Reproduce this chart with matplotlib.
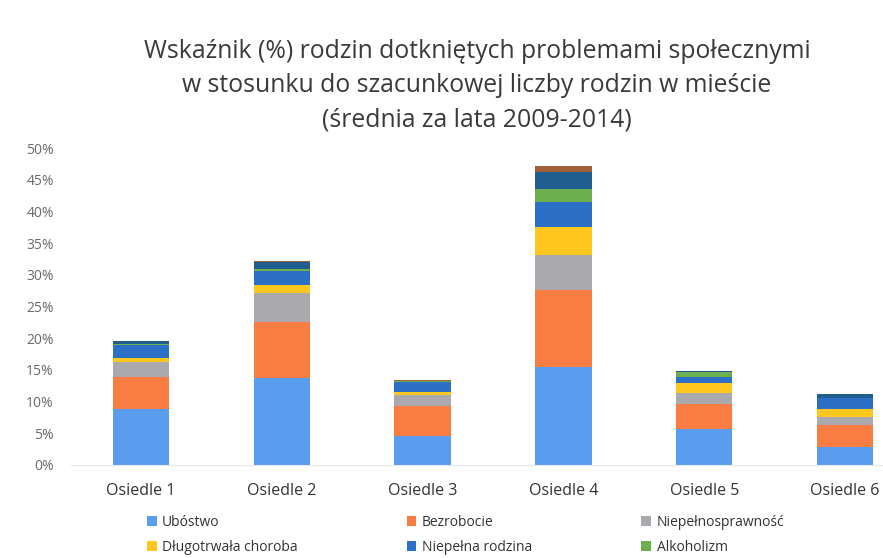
import matplotlib
matplotlib.use("Agg")
import matplotlib.pyplot as plt
from matplotlib.patches import Patch
import numpy as np

plt.rcParams['font.family'] = ['Open Sans', 'DejaVu Sans']

categories = ["Osiedle 1", "Osiedle 2", "Osiedle 3", "Osiedle 4", "Osiedle 5", "Osiedle 6"]
series_names = ["Ubóstwo", "Bezrobocie", "Niepełnosprawność", "Długotrwała choroba",
                "Niepełna rodzina", "Alkoholizm", "Przemoc", "Inne"]
ubostwo       = [8.8, 13.8, 4.6, 15.5, 5.7, 2.9]
bezrobocie    = [5.1, 8.8, 4.7, 12.1, 4.0, 3.4]
niepelnospr   = [2.3, 4.6, 1.7, 5.5, 1.6, 1.3]
dlugotrwala   = [0.6, 1.2, 0.5, 4.5, 1.6, 1.3]
niepelna_rodz = [2.1, 2.2, 1.6, 3.9, 1.0, 1.6]
alkoholizm    = [0.2, 0.3, 0.1, 2.0, 0.8, 0.1]
przemoc       = [0.4, 1.1, 0.1, 2.7, 0.1, 0.6]
inne          = [0.1, 0.1, 0.05, 1.0, 0.1, 0.05]
yticks = [0, 5, 10, 15, 20, 25, 30, 35, 40, 45, 50]

series = [ubostwo, bezrobocie, niepelnospr, dlugotrwala, niepelna_rodz, alkoholizm, przemoc, inne]
colors = ["#5A9CEE", "#F97D42", "#A9A9AE", "#FFC61E", "#2C6FC6", "#6BAF4F", "#1F5E8E", "#A0603A"]

fig = plt.figure(figsize=(8.83, 5.58), dpi=100)
ax = fig.add_axes([70.5/883, 93/558, 845/883, 317/558])

x = np.arange(len(categories))
bottom = np.zeros(len(categories))
for vals, col in zip(series, colors):
    ax.bar(x, vals, bottom=bottom, width=0.40, color=col, edgecolor='none')
    bottom += np.array(vals)

ax.set_xlim(-0.5, 5.5)
ax.set_ylim(0, 50)
ax.set_yticks(yticks)
ax.set_yticklabels([f"{t}%" for t in yticks], color="#6a6a6a", fontsize=10)
ax.set_xticks(x)
ax.set_xticklabels(categories, fontsize=11.5, color="#333333")
ax.tick_params(axis='both', length=0)
ax.tick_params(axis='x', pad=13)
ax.tick_params(axis='y', pad=12)
for s in ['top', 'right', 'left']:
    ax.spines[s].set_visible(False)
ax.spines['bottom'].set_color("#e8e8e8")

fig.text(0.540, 0.846, "Wskaźnik (%) rodzin dotkniętych problemami społecznymi\n"
         "w stosunku do szacunkowej liczby rodzin w mieście\n(średnia za lata 2009-2014)",
         ha='center', va='center', fontsize=17.8, color="#3a3a3a", linespacing=1.48)

# legend filled row by row (3 columns)
order = [0, 3, 1, 4, 2, 5]
handles = [Patch(facecolor=colors[i], edgecolor='none') for i in order]
labels = [series_names[i] for i in order]
fig.legend(handles, labels, ncol=3, loc='upper left',
           bbox_to_anchor=(144/883, 1 - 512/558), frameon=False, fontsize=10,
           handlelength=0.7, handleheight=0.7, handletextpad=0.4, borderaxespad=0,
           borderpad=0.2, columnspacing=7.85, labelspacing=0.75, labelcolor="#333333")

fig.savefig("out.png", dpi=100)
